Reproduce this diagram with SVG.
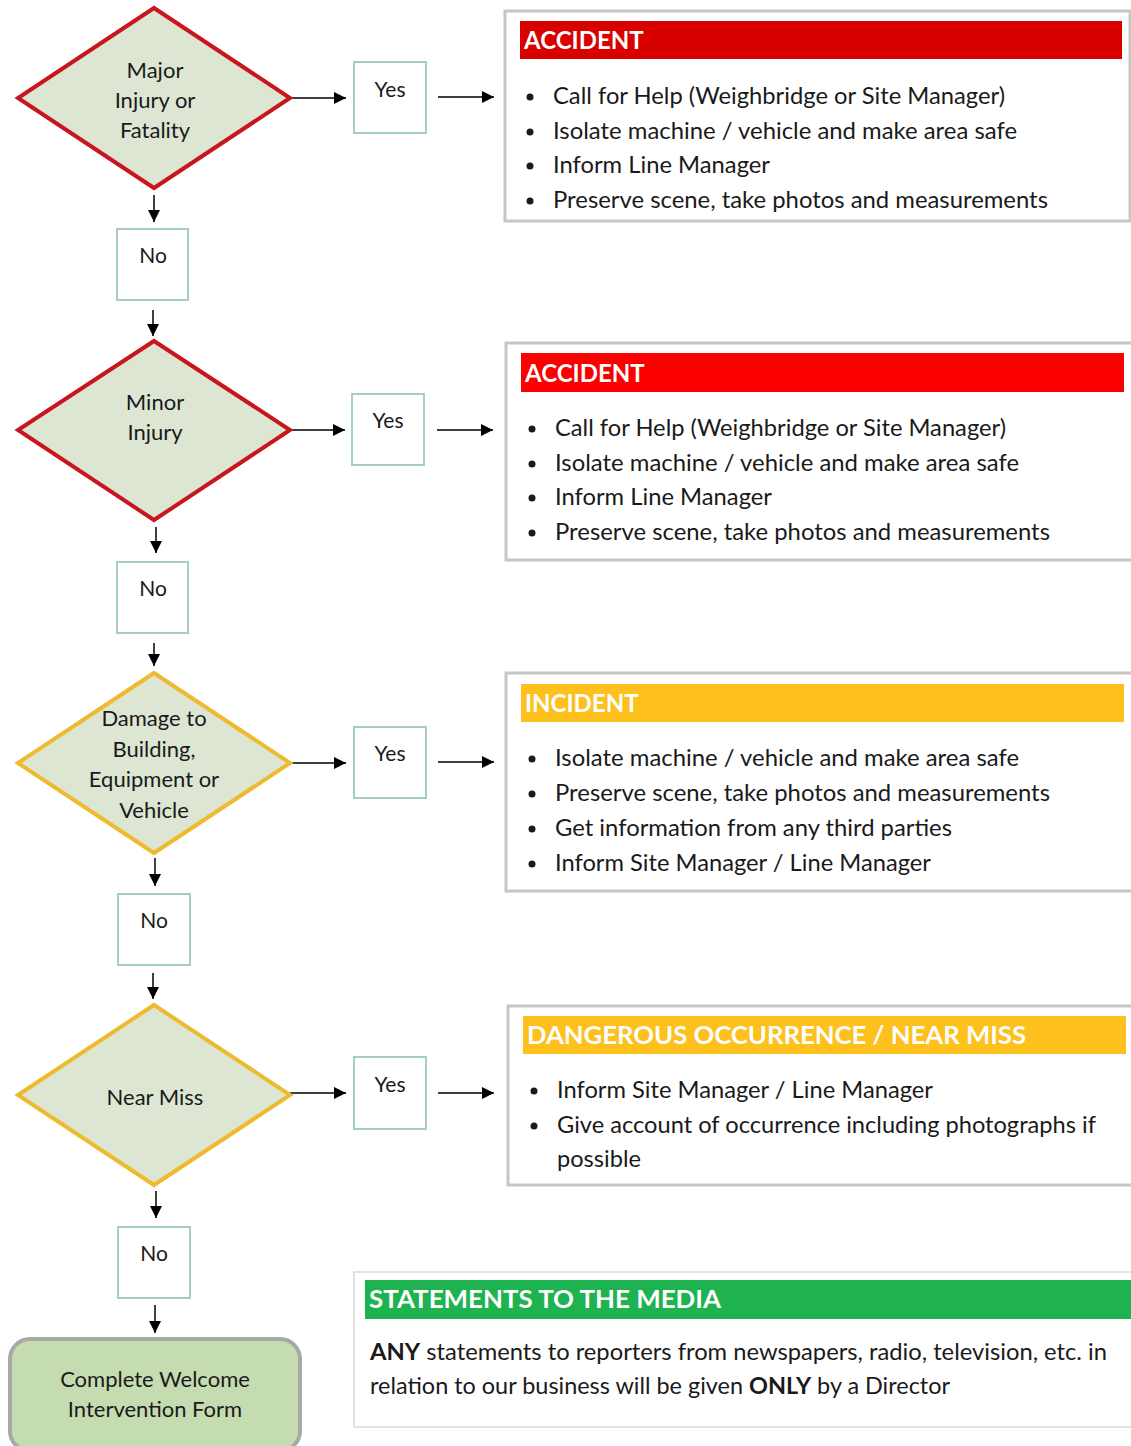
<svg xmlns="http://www.w3.org/2000/svg" width="1131" height="1446" viewBox="0 0 1131 1446">
<style>
  text { font-family: Lato, "Open Sans", "Liberation Sans", sans-serif; fill: #1a1a1a; }
  .dtext { font-size: 22px; text-anchor: middle; }
  .lbl { font-size: 21px; text-anchor: middle; }
  .body { font-size: 23px; }
  .hdr { font-size: 24px; font-weight: bold; fill: #ffffff; }
  .dia-red { fill: #DCE6D2; stroke: #C9151E; stroke-width: 4; stroke-linejoin: miter; }
  .dia-yel { fill: #DCE6D2; stroke: #EDBA30; stroke-width: 4; stroke-linejoin: miter; }
  .small { fill: #ffffff; stroke: #A6CFBD; stroke-width: 2; }
  .panel { fill: #ffffff; stroke: #C6C6C6; stroke-width: 3; }
  .conn { stroke: #000000; stroke-width: 1.5; fill: none; marker-end: url(#arr); }
  .bullet { fill: #1a1a1a; }
</style>
<defs>
  <marker id="arr" viewBox="0 0 12 12" refX="12" refY="6" markerWidth="12" markerHeight="12" markerUnits="userSpaceOnUse" orient="auto">
    <path d="M0,0 L12,6 L0,12 z" fill="#000000"/>
  </marker>
</defs>
<rect width="1131" height="1446" fill="#ffffff"/>

<g id="connectors">
  <line class="conn" x1="290" y1="98" x2="346" y2="98"/>
  <line class="conn" x1="438" y1="97" x2="494" y2="97"/>
  <line class="conn" x1="154" y1="195" x2="154" y2="222"/>
  <line class="conn" x1="153" y1="310" x2="153" y2="336"/>
  <line class="conn" x1="290" y1="430" x2="345" y2="430"/>
  <line class="conn" x1="437" y1="430" x2="493" y2="430"/>
  <line class="conn" x1="156" y1="527" x2="156" y2="553"/>
  <line class="conn" x1="154" y1="643" x2="154" y2="666"/>
  <line class="conn" x1="290" y1="763" x2="346" y2="763"/>
  <line class="conn" x1="438" y1="762" x2="494" y2="762"/>
  <line class="conn" x1="155" y1="858" x2="155" y2="886"/>
  <line class="conn" x1="153" y1="973" x2="153" y2="999"/>
  <line class="conn" x1="290" y1="1093" x2="346" y2="1093"/>
  <line class="conn" x1="438" y1="1093" x2="494" y2="1093"/>
  <line class="conn" x1="156" y1="1191" x2="156" y2="1218"/>
  <line class="conn" x1="155" y1="1305" x2="155" y2="1333"/>
</g>

<g id="d1">
  <polygon class="dia-red" points="154,8 290,98 154,188 18,98"/>
  <text class="dtext" x="155" y="78">Major</text>
  <text class="dtext" x="155" y="108">Injury or</text>
  <text class="dtext" x="155" y="138">Fatality</text>
</g>
<g id="yes1"><rect class="small" x="354" y="62" width="72" height="71"/><text class="lbl" x="390" y="97">Yes</text></g>
<g id="no1"><rect class="small" x="117" y="229" width="71" height="71"/><text class="lbl" x="153" y="263">No</text></g>

<g id="d2">
  <polygon class="dia-red" points="154,341 290,430 154,520 18,430"/>
  <text class="dtext" x="155" y="410">Minor</text>
  <text class="dtext" x="155" y="440">Injury</text>
</g>
<g id="yes2"><rect class="small" x="352" y="394" width="72" height="71"/><text class="lbl" x="388" y="428">Yes</text></g>
<g id="no2"><rect class="small" x="117" y="562" width="71" height="71"/><text class="lbl" x="153" y="596">No</text></g>

<g id="d3">
  <polygon class="dia-yel" points="154,673 290,763 154,853 18,763"/>
  <text class="dtext" x="154" y="726">Damage to</text>
  <text class="dtext" x="154" y="757">Building,</text>
  <text class="dtext" x="154" y="787">Equipment or</text>
  <text class="dtext" x="154" y="818">Vehicle</text>
</g>
<g id="yes3"><rect class="small" x="354" y="727" width="72" height="71"/><text class="lbl" x="390" y="761">Yes</text></g>
<g id="no3"><rect class="small" x="118" y="894" width="72" height="71"/><text class="lbl" x="154" y="928">No</text></g>

<g id="d4">
  <polygon class="dia-yel" points="154,1005 290,1095 154,1185 18,1095"/>
  <text class="dtext" x="155" y="1105">Near Miss</text>
</g>
<g id="yes4"><rect class="small" x="354" y="1057" width="72" height="72"/><text class="lbl" x="390" y="1092">Yes</text></g>
<g id="no4"><rect class="small" x="118" y="1227" width="72" height="71"/><text class="lbl" x="154" y="1261">No</text></g>

<g id="final">
  <rect x="10" y="1339" width="290" height="112" rx="20" ry="20" fill="#C5DCB1" stroke="#A8A8A8" stroke-width="4"/>
  <text class="dtext" x="155" y="1387">Complete Welcome</text>
  <text class="dtext" x="155" y="1417">Intervention Form</text>
</g>

<g id="panel1">
  <rect class="panel" x="505" y="11" width="625" height="210"/>
  <rect x="520" y="21" width="602" height="38" fill="#D90000"/>
  <text class="hdr" x="524" y="49">ACCIDENT</text>
  <circle class="bullet" cx="530" cy="97" r="3.5"/>
  <circle class="bullet" cx="530" cy="132" r="3.5"/>
  <circle class="bullet" cx="530" cy="166" r="3.5"/>
  <circle class="bullet" cx="530" cy="201" r="3.5"/>
  <text class="body" x="553" y="104" textLength="452" lengthAdjust="spacingAndGlyphs">Call for Help (Weighbridge or Site Manager)</text>
  <text class="body" x="553" y="139" textLength="464" lengthAdjust="spacingAndGlyphs">Isolate machine / vehicle and make area safe</text>
  <text class="body" x="553" y="173" textLength="217" lengthAdjust="spacingAndGlyphs">Inform Line Manager</text>
  <text class="body" x="553" y="208" textLength="495" lengthAdjust="spacingAndGlyphs">Preserve scene, take photos and measurements</text>
</g>

<g id="panel2">
  <rect class="panel" x="506" y="343" width="630" height="217"/>
  <rect x="521" y="353" width="603" height="39" fill="#FA0000"/>
  <text class="hdr" x="525" y="382">ACCIDENT</text>
  <circle class="bullet" cx="532" cy="429" r="3.5"/>
  <circle class="bullet" cx="532" cy="464" r="3.5"/>
  <circle class="bullet" cx="532" cy="498" r="3.5"/>
  <circle class="bullet" cx="532" cy="533" r="3.5"/>
  <text class="body" x="555" y="436" textLength="451" lengthAdjust="spacingAndGlyphs">Call for Help (Weighbridge or Site Manager)</text>
  <text class="body" x="555" y="471" textLength="464" lengthAdjust="spacingAndGlyphs">Isolate machine / vehicle and make area safe</text>
  <text class="body" x="555" y="505" textLength="217" lengthAdjust="spacingAndGlyphs">Inform Line Manager</text>
  <text class="body" x="555" y="540" textLength="495" lengthAdjust="spacingAndGlyphs">Preserve scene, take photos and measurements</text>
</g>

<g id="panel3">
  <rect class="panel" x="506" y="673" width="630" height="218"/>
  <rect x="521" y="684" width="603" height="38" fill="#FDC01C"/>
  <text class="hdr" x="525" y="712">INCIDENT</text>
  <circle class="bullet" cx="532" cy="759" r="3.5"/>
  <circle class="bullet" cx="532" cy="794" r="3.5"/>
  <circle class="bullet" cx="532" cy="829" r="3.5"/>
  <circle class="bullet" cx="532" cy="864" r="3.5"/>
  <text class="body" x="555" y="766" textLength="464" lengthAdjust="spacingAndGlyphs">Isolate machine / vehicle and make area safe</text>
  <text class="body" x="555" y="801" textLength="495" lengthAdjust="spacingAndGlyphs">Preserve scene, take photos and measurements</text>
  <text class="body" x="555" y="836" textLength="397" lengthAdjust="spacingAndGlyphs">Get information from any third parties</text>
  <text class="body" x="555" y="871" textLength="376" lengthAdjust="spacingAndGlyphs">Inform Site Manager / Line Manager</text>
</g>

<g id="panel4">
  <rect class="panel" x="508" y="1006" width="630" height="179"/>
  <rect x="523" y="1016" width="603" height="38" fill="#FDC01C"/>
  <text class="hdr" x="527" y="1044" textLength="499" lengthAdjust="spacingAndGlyphs">DANGEROUS OCCURRENCE / NEAR MISS</text>
  <circle class="bullet" cx="534" cy="1091" r="3.5"/>
  <circle class="bullet" cx="534" cy="1126" r="3.5"/>
  <text class="body" x="557" y="1098" textLength="376" lengthAdjust="spacingAndGlyphs">Inform Site Manager / Line Manager</text>
  <text class="body" x="557" y="1133" textLength="539" lengthAdjust="spacingAndGlyphs">Give account of occurrence including photographs if</text>
  <text class="body" x="557" y="1167" textLength="84" lengthAdjust="spacingAndGlyphs">possible</text>
</g>

<g id="panel5">
  <rect x="354" y="1272" width="790" height="155" fill="#ffffff" stroke="#DADADA" stroke-width="1.5"/>
  <rect x="365" y="1280" width="770" height="39" fill="#1EB350"/>
  <text class="hdr" x="369" y="1308" textLength="352" lengthAdjust="spacingAndGlyphs">STATEMENTS TO THE MEDIA</text>
  <text class="body" x="370" y="1360" textLength="737" lengthAdjust="spacingAndGlyphs"><tspan font-weight="bold">ANY</tspan> statements to reporters from newspapers, radio, television, etc. in</text>
  <text class="body" x="370" y="1394" textLength="580" lengthAdjust="spacingAndGlyphs">relation to our business will be given <tspan font-weight="bold">ONLY</tspan> by a Director</text>
</g>
</svg>
